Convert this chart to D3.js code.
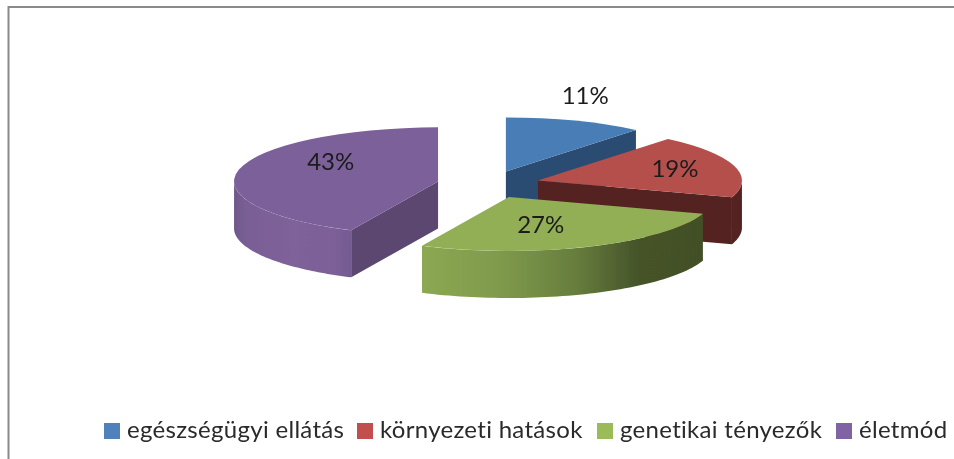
<!DOCTYPE html>
<html>
<head>
<meta charset="utf-8">
<script src="https://cdn.jsdelivr.net/npm/d3@7"></script>
<style>
  html, body { margin: 0; padding: 0; background: #fff; overflow: hidden; }
  text { font-family: Lato, "Open Sans", sans-serif; }
</style>
</head>
<body>
<div id="chart"></div>
<script>
var categories = ['egészségügyi ellátás', 'környezeti hatások', 'genetikai tényezők', 'életmód'];
var values = [11, 19, 27, 43];

var width = 954, height = 459;
var cx = 488.4, cy = 184.4, radius = 204, tilt = 0.265, depth = 47, explode = 51.6;

var legendColors = ['#4F81BD', '#C0504D', '#9BBB59', '#8064A2'];
var topColors = ['#4A7DB6', '#B44F4B', '#93AF55', '#7C6099'];
var cutColors = ['#2C4C72', '#552320', '#445228', '#5B4670'];
// rim shading, stops run left to right across the visible wall
var rimStops = [
  [[0, '#2C4C72'], [1, '#2C4C72']],
  [[0, '#552320'], [1, '#552320']],
  [[0, '#8CA852'], [0.28, '#7F9A4C'], [0.55, '#667D3D'], [0.78, '#445228'], [1, '#435027']],
  [[0, '#70588B'], [0.1, '#795E95'], [0.5, '#7E6299'], [0.85, '#7C6097'], [1, '#735A91']]
];

var svg = d3.select('#chart').append('svg')
  .attr('width', width)
  .attr('height', height);

var defs = svg.append('defs');
// the reference is a slightly soft screenshot
defs.append('filter').attr('id', 'soft')
  .attr('filterUnits', 'userSpaceOnUse')
  .attr('x', 0).attr('y', 0).attr('width', width).attr('height', height)
  .append('feGaussianBlur').attr('stdDeviation', 0.45);

var root = svg.append('g').attr('filter', 'url(#soft)');

// frame, only top and left are visible in the picture
root.append('path')
  .attr('d', 'M8.5,' + (height + 5) + 'V7H' + (width + 5))
  .attr('fill', 'none')
  .attr('stroke', '#8a8a8a')
  .attr('stroke-width', 2);

var pie = d3.pie().sort(null).value(function(d) { return d; });
var slices = pie(values);

var arc = d3.arc().innerRadius(0).outerRadius(radius);

function apex(s) {
  var mid = (s.startAngle + s.endAngle) / 2;
  return [cx + explode * Math.sin(mid), cy - explode * tilt * Math.cos(mid)];
}

function rimPoint(c, a, down) {
  return [c[0] + radius * Math.sin(a), c[1] - radius * tilt * Math.cos(a) + down];
}

// angles on the part of the outer wall that faces the viewer
function rimAngles(s) {
  var a0 = Math.max(s.startAngle, Math.PI / 2);
  var a1 = Math.min(s.endAngle, Math.PI * 1.5);
  if (a1 <= a0) {
    return null;
  }
  return d3.range(0, 61).map(function(i) { return a0 + (a1 - a0) * i / 60; });
}

// the cut wall that can be seen for each slice
function cutPath(s, c) {
  if (s.index === 2) {
    return null;
  }
  var a = s.index === 3 ? s.startAngle : s.endAngle;
  var p = rimPoint(c, a, 0);
  return d3.line()([c, p, [p[0], p[1] + depth], [c[0], c[1] + depth]]) + 'Z';
}

var order = [0, 3, 1, 2];
order.forEach(function(i) {
  var s = slices[i];
  var c = apex(s);
  var g = root.append('g');

  var angles = rimAngles(s);
  if (angles) {
    var upper = angles.map(function(a) { return rimPoint(c, a, 0); });
    var lower = angles.slice().reverse().map(function(a) { return rimPoint(c, a, depth); });
    var xs = d3.extent(upper, function(d) { return d[0]; });
    var grad = defs.append('linearGradient')
      .attr('id', 'rim' + i)
      .attr('gradientUnits', 'userSpaceOnUse')
      .attr('x1', xs[0]).attr('x2', xs[1])
      .attr('y1', 0).attr('y2', 0);
    grad.selectAll('stop').data(rimStops[i]).enter().append('stop')
      .attr('offset', function(d) { return d[0]; })
      .attr('stop-color', function(d) { return d[1]; });
    g.append('path')
      .attr('d', d3.line()(upper.concat(lower)) + 'Z')
      .attr('fill', 'url(#rim' + i + ')');
  }

  var cut = cutPath(s, c);
  if (cut) {
    g.append('path').attr('d', cut).attr('fill', cutColors[i]);
  }

  g.append('path')
    .attr('d', arc(s))
    .attr('transform', 'translate(' + c[0] + ',' + c[1] + ') scale(1,' + tilt + ')')
    .attr('fill', topColors[i]);
});

// data labels, placed along the radius of each slice then nudged
var labelRadius = [1.25, 0.74, 0.38, 0.69];
var labelDx = [-7, -8, 1, 30];
var labelDy = [-13, -2, 8, -13];
slices.forEach(function(s, i) {
  var c = apex(s);
  var mid = (s.startAngle + s.endAngle) / 2;
  root.append('text')
    .attr('x', c[0] + radius * labelRadius[i] * Math.sin(mid) + labelDx[i])
    .attr('y', c[1] - radius * tilt * labelRadius[i] * Math.cos(mid) + labelDy[i])
    .attr('text-anchor', 'middle')
    .attr('dominant-baseline', 'central')
    .attr('font-size', 24)
    .attr('fill', '#1c1c1c')
    .text(values[i] + '%');
});

// legend
var legendX = [104, 357, 597, 836];
var legend = root.selectAll('.legendItem').data(categories).enter().append('g')
  .attr('class', 'legendItem')
  .attr('transform', function(d, i) { return 'translate(' + legendX[i] + ',423)'; });
legend.append('rect')
  .attr('width', 16).attr('height', 16)
  .attr('fill', function(d, i) { return legendColors[i]; });
legend.append('text')
  .attr('x', 23).attr('y', 15)
  .attr('font-size', 24)
  .attr('letter-spacing', 0.3)
  .attr('fill', '#2a2a2a')
  .text(function(d) { return d; });
</script>
</body>
</html>
